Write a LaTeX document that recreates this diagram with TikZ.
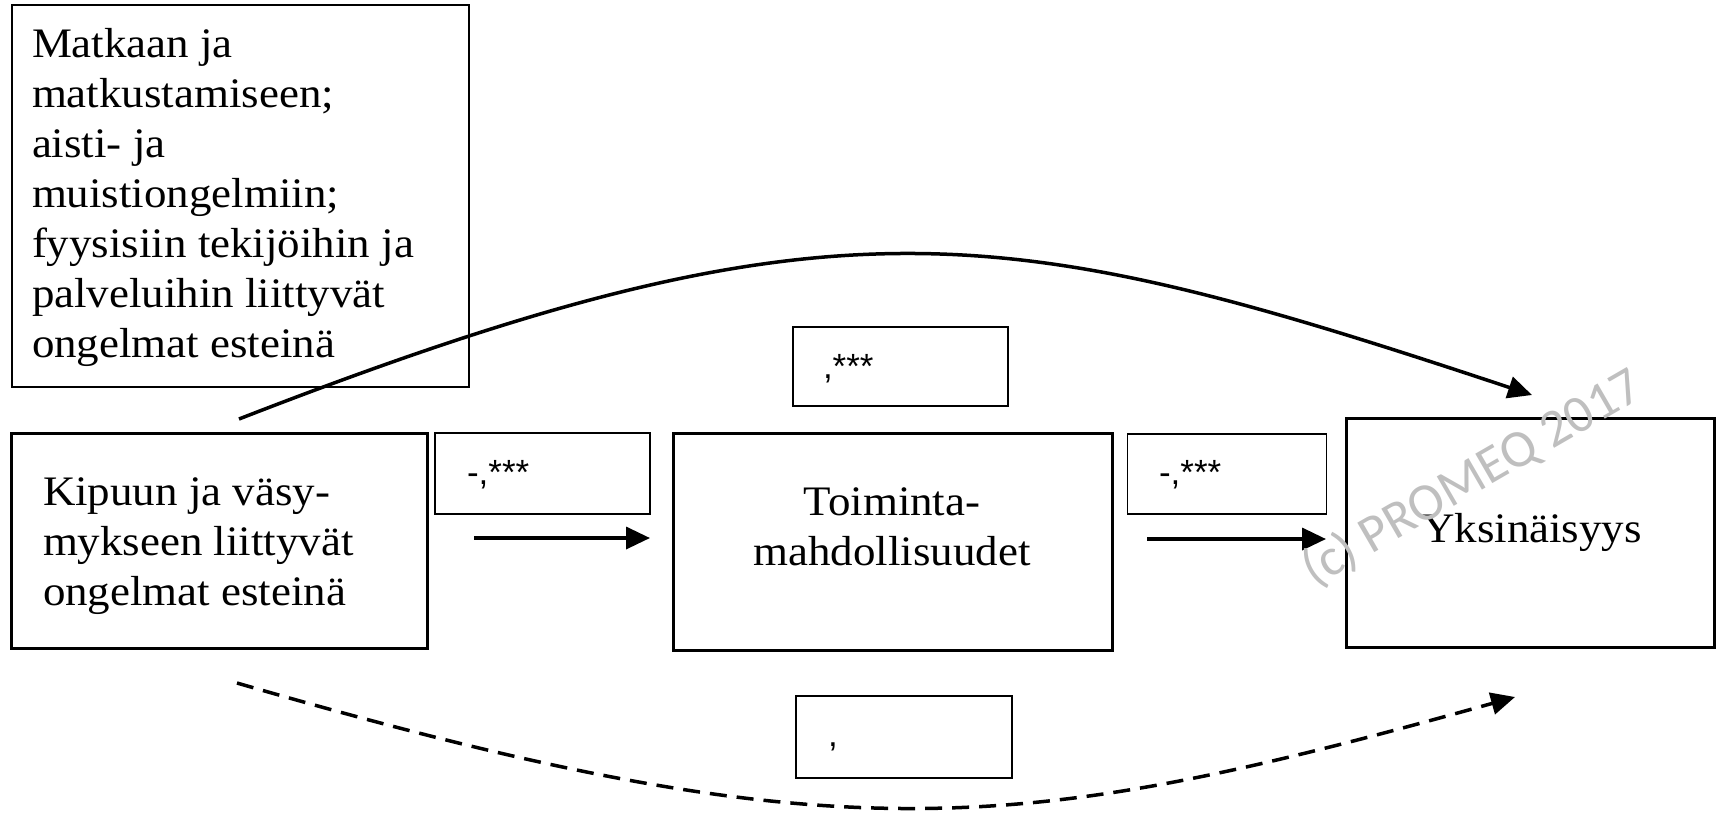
\documentclass[tikz,border=0pt]{standalone}
\usepackage{fontspec}
\setmainfont{Liberation Serif}[FakeStretch=1.07]
\newfontfamily\coeffont{Liberation Sans}
\newfontfamily\markfont{Carlito}
\usepackage{xcolor}
\usetikzlibrary{arrows.meta,calc,positioning}
\definecolor{Ink}{HTML}{000000}
\definecolor{Mark}{HTML}{BFBFBF}

\begin{document}
\begin{tikzpicture}[x=1pt,y=-1pt,
  every node/.style={inner sep=0pt,outer sep=0pt},
  bigbox/.style={draw=Ink,line width=3pt},
  thinbox/.style={draw=Ink,line width=1.8pt},
  txt/.style={font=\fontsize{42}{50}\selectfont,align=left},
  coef/.style={font=\coeffont\fontsize{35}{40}\selectfont,anchor=base west},
  arr/.style={draw=Ink,line width=3.5pt,-{Triangle[length=24pt,width=22pt]}}]
  \useasboundingbox (0,0) rectangle (1716,815);
  % boxes
  \node[thinbox,minimum width=457pt,minimum height=382pt] (matk) at (240.5,196) {};
  \node[bigbox,minimum width=416pt,minimum height=215pt] (kipu) at (219,540.5) {};
  \node[bigbox,minimum width=439pt,minimum height=217pt] (toim) at (892.5,541.5) {};
  \node[bigbox,minimum width=368pt,minimum height=229pt] (yks) at (1530,532.5) {};
  \node[thinbox,minimum width=215pt,minimum height=81pt] (c1) at (542.5,473.5) {};
  \node[thinbox,minimum width=199pt,minimum height=80pt] (c2) at (1227,474) {};
  \node[thinbox,minimum width=215pt,minimum height=79pt] (ctop) at (900.5,366.5) {};
  \node[thinbox,minimum width=216pt,minimum height=82pt] (cbot) at (904,737) {};
  % texts
  \node[txt,anchor=north west] (matktxt) at (32,28) {Matkaan ja\\matkustamiseen;\\aisti- ja\\muistiongelmiin;\\fyysisiin tekijöihin ja\\palveluihin liittyvät\\ongelmat esteinä};
  \node[txt,anchor=north west] (kiputxt) at (43,478) {Kipuun ja väsy-\\mykseen liittyvät\\ongelmat esteinä};
  \node[txt,align=center,anchor=north] (toimtxt) at (892,488) {Toiminta-\\mahdollisuudet};
  \node[txt,anchor=base] (ykstxt) at (1532,542) {Yksinäisyys};
  \node[coef] (c1txt) at (467,484) {-,***};
  \node[coef] (c2txt) at (1159,484) {-,***};
  \node[coef] (ctoptxt) at (823,378) {,***};
  \node[coef] (cbottxt) at (828,746) {,};
  % connectors
  \coordinate (s1) at ($(kipu.north)+(20,-14)$);
  \coordinate (e1) at ($(yks.north)+(2,-23)$);
  \coordinate (s2) at ($(kipu.south)+(18,35)$);
  \coordinate (e2) at ($(yks.south)+(-15,50)$);
  \draw[arr] ($(kipu.east)+(47,-2.5)$) -- ($(kipu.east -| toim.west)+(-23,-2.5)$);
  \draw[arr] ($(toim.east)+(35,-2.5)$) -- ($(toim.east -| yks.west)+(-20,-2.5)$);
  \draw[arr] (s1) .. controls +(597,-232) and +(-527,-175) .. (e1);
  \draw[arr,dash pattern=on 17pt off 10pt] (s2) .. controls +(600,174) and +(-500,140) .. (e2);
  % watermark
  \node[font=\markfont\fontsize{53}{60}\selectfont,text=Mark,rotate=30] (mark) at (1472,478) {(c) PROMEQ 2017};
\end{tikzpicture}
\end{document}
